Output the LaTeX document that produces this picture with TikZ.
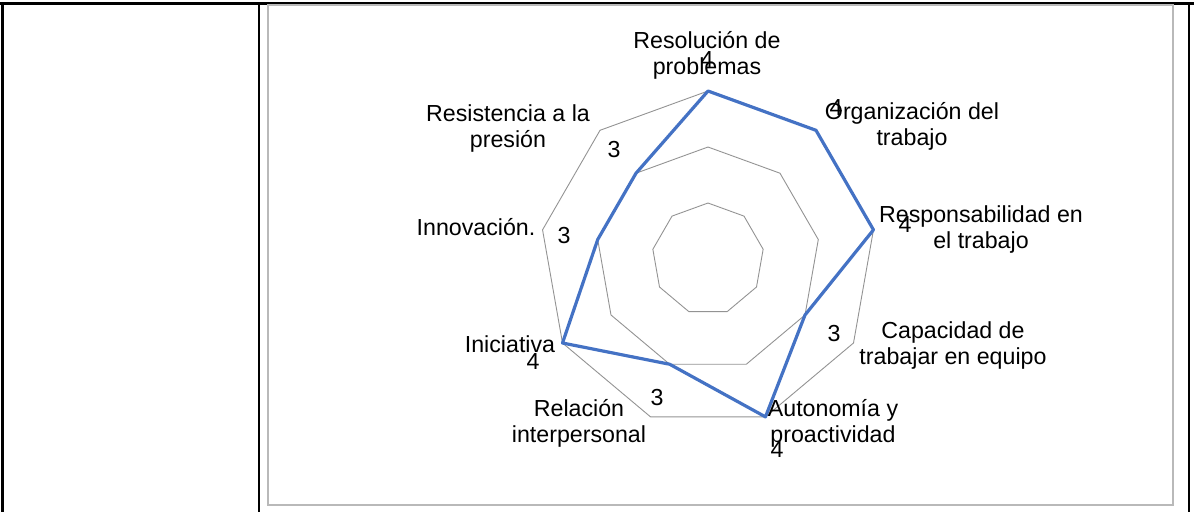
\documentclass[tikz,border=0pt]{standalone}
\usepackage{fontspec}
\setmainfont{Liberation Sans}

\definecolor{chartblue}{RGB}{68,114,196}

\begin{document}
\begin{tikzpicture}[x=1pt, y=-1pt,
    ring/.style={draw=gray!85, line width=0.9pt},
    skill/.style={align=center, anchor=base, inner sep=0pt, font=\fontsize{23.2}{26}\selectfont},
    score/.style={anchor=base, inner sep=0pt, font=\fontsize{23.2}{26}\selectfont}]
    \useasboundingbox (0,0) rectangle (1194,512);

    % table cell lines
    \draw[line width=3pt] (0,3.5) -- (1194,3.5);
    \draw[line width=3pt] (2.5,2) -- (2.5,512);
    \draw[line width=2.5pt] (259,2) -- (259,512);
    \draw[line width=2.3pt] (1189,2) -- (1189,512);

    % chart frame
    \draw[draw=gray!55, line width=1.2pt] (268,5) rectangle (1173,505);

    \begin{scope}[shift={(708,259)}]
        % grid rings
        \foreach \r in {56,112,168}
            \draw[ring] (-90:\r) \foreach \k in {1,...,8} { -- (-90+40*\k:\r) } -- cycle;

        % data points
        \foreach \v [count=\k from 0] in {4,4,4,3,4,3,4,3,3}
            \coordinate (p\k) at (-90+40*\k:{(\v-1)*56});

        \draw[chartblue, line width=3.2pt, line join=round]
            (p0) -- (p1) -- (p2) -- (p3) -- (p4) -- (p5) -- (p6) -- (p7) -- (p8) -- cycle;
    \end{scope}

    % axis labels (base = last line)
    \node (resol) [skill] at (707,74) {Resolución de\\problemas};
    \node (organ) [skill] at (912,145) {Organización del\\trabajo};
    \node (respon) [skill] at (981,248) {Responsabilidad en\\el trabajo};
    \node (capac) [skill] at (953,364) {Capacidad de\\trabajar en equipo};
    \node (auton) [skill] at (833,442) {Autonomía y\\proactividad};
    \node (relac) [skill] at (579,442) {Relación\\interpersonal};
    \node (inici) [skill] at (510,352) {Iniciativa};
    \node (innov) [skill] at (476,235) {Innovación.};
    \node (resist) [skill] at (508,147) {Resistencia a la\\presión};

    % data labels
    \node (sresol) [score] at (707,67) {4};
    \node (sorgan) [score] at (836,115) {4};
    \node (srespon) [score] at (905,232) {4};
    \node (scapac) [score] at (834,341) {3};
    \node (sauton) [score] at (777,457) {4};
    \node (srelac) [score] at (657,405) {3};
    \node (sinici) [score] at (533,369) {4};
    \node (sinnov) [score] at (564,243) {3};
    \node (sresist) [score] at (614,157) {3};
\end{tikzpicture}
\end{document}
